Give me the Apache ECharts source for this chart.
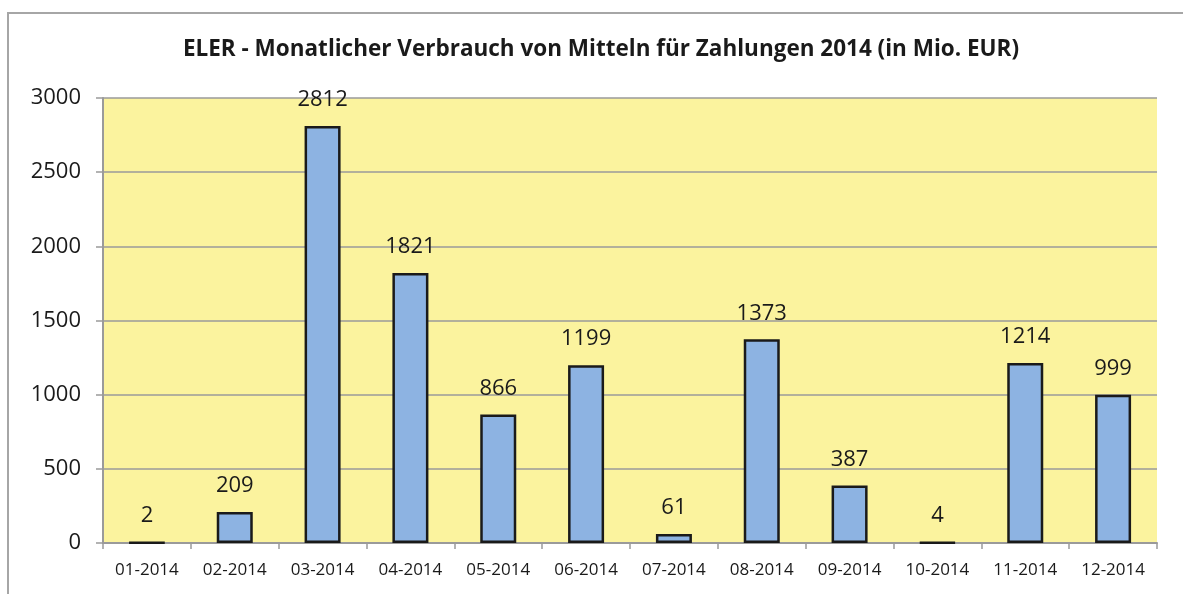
<!DOCTYPE html>
<html>
<head>
<meta charset="utf-8">
<script src="https://cdn.jsdelivr.net/npm/echarts@6/dist/echarts.min.js"></script>
<style>
  html, body { margin: 0; padding: 0; background: #fff; overflow: hidden; }
  #frame { position: absolute; left: 7px; top: 12px; width: 1190px; height: 600px; border: 2px solid #a6a6a6; box-sizing: border-box; }
  #chart { position: absolute; left: 0; top: 0; width: 1183px; height: 594px; }
</style>
</head>
<body>
<div id="frame"></div>
<div id="chart"></div>
<script>
// Monate
var months = ["01-2014", "02-2014", "03-2014", "04-2014", "05-2014", "06-2014",
  "07-2014", "08-2014", "09-2014", "10-2014", "11-2014", "12-2014"];
// Verbrauch in Mio. EUR
var values = [2, 209, 2812, 1821, 866, 1199, 61, 1373, 387, 4, 1214, 999];
var yTicks = [0, 500, 1000, 1500, 2000, 2500, 3000];

var chart = echarts.init(document.getElementById("chart"));
var font = "'Open Sans', 'Noto Sans', sans-serif";

var option = {
  animation: false,
  title: {
    text: "ELER - Monatlicher Verbrauch von Mitteln für Zahlungen 2014 (in Mio. EUR)",
    left: 596,
    top: 33,
    textAlign: "center",
    textStyle: {
      fontFamily: font,
      fontWeight: "bold",
      fontSize: 22.5,
      color: "#1a1a1a"
    }
  },
  grid: {
    left: 103,
    right: 26,
    top: 98,
    bottom: 51,
    show: true,
    backgroundColor: "#fbf39e",
    borderWidth: 0
  },
  xAxis: {
    type: "category",
    data: months,
    axisLine: { show: true, lineStyle: { color: "#9a9a9a", width: 2 } },
    axisTick: { show: true, length: 6, alignWithLabel: false, lineStyle: { color: "#9a9a9a", width: 1.5 } },
    axisLabel: { fontFamily: font, fontSize: 17, color: "#1a1a1a", margin: 19 }
  },
  yAxis: {
    type: "value",
    min: yTicks[0],
    max: yTicks[yTicks.length - 1],
    interval: 500,
    axisLine: { show: true, lineStyle: { color: "#9a9a9a", width: 2 } },
    axisTick: { show: true, length: 7, lineStyle: { color: "#9a9a9a", width: 1.5 } },
    axisLabel: {
      fontFamily: font,
      fontSize: 22,
      color: "#1a1a1a",
      margin: 22,
      formatter: function(v) { return String(v); }
    },
    splitLine: { show: true, lineStyle: { color: "#9a9a9a", width: 1.5 } }
  },
  series: [{
    type: "bar",
    data: values,
    barWidth: 36,
    itemStyle: {
      color: "#8db3e2",
      borderColor: "#1a1a1a",
      borderWidth: 2.5
    },
    label: {
      show: true,
      position: "top",
      distance: 15,
      fontFamily: font,
      fontSize: 22,
      color: "#1a1a1a"
    }
  }]
};

chart.setOption(option);
window.addEventListener("resize", function() {
  chart.resize();
});
</script>
</body>
</html>
